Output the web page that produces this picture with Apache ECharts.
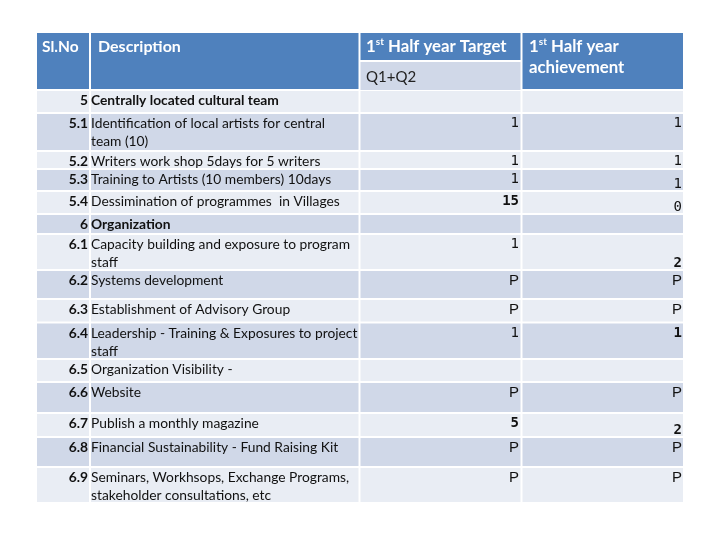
<!DOCTYPE html>
<html><head><meta charset="utf-8">
<script src="https://cdn.jsdelivr.net/npm/echarts@6/dist/echarts.min.js"></script>
<style>html,body{margin:0;padding:0;background:#fff}#c{width:720px;height:540px}</style>
</head><body><div id="c"></div>
<script>
// ---- data ----
const headerTitles = ['Sl.No', 'Description', '1st Half year Target', 'Q1+Q2', '1st Half year achievement'];
const slNo = ['5','5.1','5.2','5.3','5.4','6','6.1','6.2','6.3','6.4','6.5','6.6','6.7','6.8','6.9'];
const descriptions = [
  'Centrally located cultural team',
  'Identification of local artists for central\nteam (10)',
  'Writers work shop 5days for 5 writers',
  'Training to Artists (10 members) 10days',
  'Dessimination of programmes  in Villages',
  'Organization',
  'Capacity building and exposure to program\nstaff',
  'Systems development',
  'Establishment of Advisory Group',
  'Leadership - Training & Exposures to project\nstaff',
  'Organization Visibility -',
  'Website',
  'Publish a monthly magazine',
  'Financial Sustainability - Fund Raising Kit',
  'Seminars, Workhsops, Exchange Programs,\nstakeholder consultations, etc'
];
const target      = ['', '1', '1', '1', '15', '', '1', 'P', 'P', '1', '', 'P', '5', 'P', 'P'];
const achievement = ['', '1', '1', '1', '0',  '', '2', 'P', 'P', '1', '', 'P', '2', 'P', 'P'];

// ---- layout / style ----
const colEdges = [0, 53, 322.5, 484.5, 646];
const headerHeight = 57;
const rowHeights = [23, 38, 18, 22, 23, 20, 36, 29, 23.5, 36.5, 23, 31, 24, 30, 35];
const boldTarget = [4, 12];
const boldAch = [6, 9, 12];
const achAtBottom = [3, 4, 6, 12];
const BLUE = '#4F81BD', DARK = '#D0D8E8', LIGHT = '#E9EDF4';
const TXT = "Lato, 'Liberation Sans', sans-serif";
const NUM = "'DejaVu Sans Mono', monospace";

const rows = [[-1, 0, headerHeight]];
let acc = headerHeight;
rowHeights.forEach((h, i) => { rows.push([i, acc, acc + h]); acc += h; });
const totalH = acc;

function renderItem(params, api) {
  const r = api.value(0), y0 = api.value(1), y1 = api.value(2);
  const pt = (x, y) => api.coord([x, y]);
  const rect = (xa, ya, xb, yb, fill) => {
    const a = pt(xa, ya), b = pt(xb, yb);
    return { type: 'rect', shape: { x: a[0], y: a[1], width: b[0] - a[0], height: b[1] - a[1] }, style: { fill } };
  };
  const text = (x, y, s, opt) => {
    const p = pt(x, y);
    return { type: 'text', style: Object.assign({ x: p[0], y: p[1], text: s, fill: '#111', fontFamily: TXT, fontSize: 13.8, align: 'left', verticalAlign: 'top' }, opt) };
  };
  const ch = [];
  const cx = c => [colEdges[c] + (c > 0 ? 1 : 0), colEdges[c + 1] - (c < 3 ? 1 : 0)];
  if (r === -1) {
    [0, 1, 3].forEach(c => { const x = cx(c); ch.push(rect(x[0], 0, x[1], y1 - 1, BLUE)); });
    const x2 = cx(2);
    ch.push(rect(x2[0], 0, x2[1], 27, BLUE));
    ch.push(rect(x2[0], 29, x2[1], y1 - 0, DARK));
    const hdr = { fill: '#fff', fontFamily: TXT, fontSize: 15.5, fontWeight: 'bold', verticalAlign: 'middle' };
    ch.push(text(5, 14, headerTitles[0], hdr));
    ch.push(text(61, 14, headerTitles[1], Object.assign({}, hdr, { fontSize: 16 })));
    const rich = {
      n: { fill: '#fff', fontFamily: TXT, fontSize: 16.8, fontWeight: 'bold', lineHeight: 21 },
      s: { fill: '#fff', fontFamily: TXT, fontSize: 10, fontWeight: 'bold', verticalAlign: 'top', lineHeight: 21, padding: [0, 0, 0, 0] }
    };
    const t1 = headerTitles[2].match(/^(\d)(st)(.*)$/);
    ch.push(text(329, 14, '{n|' + t1[1] + '}{s|' + t1[2] + '}{n|' + t1[3] + '}', { rich, verticalAlign: 'middle' }));
    ch.push(text(329, 44, headerTitles[3], { fontSize: 15, fill: '#222', verticalAlign: 'middle' }));
    const t2 = headerTitles[4].match(/^(\d)(st)( Half year) (.*)$/);
    ch.push(text(492, 3.5, '{n|' + t2[1] + '}{s|' + t2[2] + '}{n|' + t2[3] + '}\n{n|' + t2[4] + '}', { rich, verticalAlign: 'top' }));
    return { type: 'group', children: ch };
  }
  const fill = r % 2 === 0 ? LIGHT : DARK;
  const last = r === rowHeights.length - 1;
  for (let c = 0; c < 4; c++) { const x = cx(c); ch.push(rect(x[0], y0 + 1, x[1], y1 - (last ? 0 : 1), fill)); }
  const section = slNo[r].indexOf('.') < 0;
  ch.push(text(51, y0 + 2, slNo[r], { align: 'right', fontWeight: 'bold', lineHeight: 18 }));
  ch.push(text(54, y0 + 2, descriptions[r], { lineHeight: 18, fontWeight: section ? 'bold' : 'normal' }));
  const val = (s, xr, y, bold, va) => {
    if (!s) return;
    const isP = s === 'P';
    ch.push(text(xr, y, s, {
      align: 'right', verticalAlign: va,
      fontFamily: isP ? "'Liberation Sans', Arial, sans-serif" : NUM,
      fontSize: isP ? 15 : 14, fontWeight: bold ? 'bold' : 'normal', fill: '#111'
    }));
  };
  val(target[r], 482, y0 + 10.5, boldTarget.includes(r), 'middle');
  if (achAtBottom.includes(r)) val(achievement[r], 645, y1 - 7, boldAch.includes(r), 'middle');
  else val(achievement[r], 645, y0 + 10.5, boldAch.includes(r), 'middle');
  return { type: 'group', children: ch };
}

const chart = echarts.init(document.getElementById('c'), null, { renderer: 'canvas' });
chart.setOption({
  animation: false,
  backgroundColor: '#fff',
  grid: { left: 37, top: 33, width: 646, height: totalH },
  xAxis: { type: 'value', min: 0, max: 646, show: false },
  yAxis: { type: 'value', min: 0, max: totalH, inverse: true, show: false },
  series: [{ type: 'custom', renderItem, data: rows, clip: false, encode: { x: -1, y: [1, 2] } }]
});
</script></body></html>
